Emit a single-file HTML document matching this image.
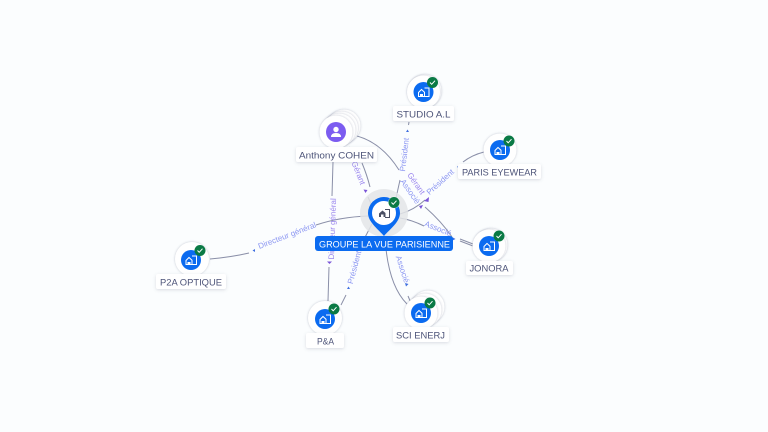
<!DOCTYPE html>
<html><head><meta charset="utf-8">
<style>
html,body{margin:0;padding:0;width:768px;height:432px;overflow:hidden;background:#fbfdfe}
svg{display:block;filter:blur(.3px)}
text{font-family:"Liberation Sans",sans-serif}
.l{font-size:9.6px;fill:#4c5378;text-anchor:middle}
.e{font-size:8px;fill:#8b96f2;text-anchor:middle}
.p{font-size:8px;fill:#9a86ee;text-anchor:middle}
.c{fill:none;stroke:#8a8fa8;stroke-width:1}
.lab{fill:#fff;filter:url(#s)}
.w{fill:#fff;filter:url(#s2)}
</style></head><body>
<svg width="768" height="432" viewBox="0 0 768 432" xmlns="http://www.w3.org/2000/svg">
<defs>
<filter id="s" x="-20%" y="-40%" width="140%" height="190%"><feDropShadow dx="0" dy="1" stdDeviation="1.5" flood-color="#5a6080" flood-opacity=".22"/></filter>
<filter id="s2" x="-30%" y="-30%" width="160%" height="160%"><feDropShadow dx="0" dy="0" stdDeviation="1" flood-color="#5a6080" flood-opacity=".4"/></filter>
<g id="b"><path d="M-5 4.500V.5L-2-2.500 1 .2V4.500Z" fill="none" stroke="#fff" stroke-width="1"/><path d="M1-4H5.500V4.500H1" fill="none" stroke="#fff" stroke-width="1"/><path d="M-3.500 4.500V2H-.5V4.500" fill="#fff"/></g>
<g id="ok"><circle r="5.500" fill="#0a7a45"/><path d="M-2.500 0L-.8 1.800L2.500-1.800" fill="none" stroke="#fff" stroke-width="1"/></g>
</defs>
<rect width="768" height="432" fill="#fbfdfe"/>

<!-- connectors -->
<path class="c" d="M210 259Q232 257 249 253"/>
<path class="c" d="M316 225Q340 217 368 216"/>
<path class="c" d="M333 162L332 196"/>
<path class="c" d="M329 267L328 301"/>
<path class="c" d="M349 147L352 152"/>
<path class="c" d="M362 163Q367 175 370 187"/>
<path class="c" d="M368 197L372 206"/>
<path class="c" d="M341 305L346 295"/>
<path class="c" d="M362 243L372 224"/>
<path class="c" d="M385 238Q388 285 407 304"/>
<path class="c" d="M394 238L397 246"/>
<path class="c" d="M408 296L411 303"/>
<path class="c" d="M400 218Q412 220 424 226"/>
<path class="c" d="M460 239L473 244"/>
<path class="c" d="M460 241L473 246"/>
<path class="c" d="M357 136Q382 143 399 170"/>
<path class="c" d="M425 207Q442 222 452 237"/>
<path class="c" d="M396 198L400 180"/>
<path class="c" d="M409 122L408.500 125"/>
<path class="c" d="M400 214Q414 210 425 200"/>
<path class="c" d="M463 162Q472 155 484 152"/>

<!-- connector labels -->
<text class="e" transform="translate(288,238) rotate(-21)">Directeur général</text>
<text class="p" transform="translate(335,229) rotate(-88)">Directeur général</text>
<text class="p" transform="translate(356,174) rotate(68)">Gérant</text>
<text class="e" transform="translate(357,268) rotate(-75)">Président</text>
<text class="e" transform="translate(400,270) rotate(72)">Associé</text>
<text class="e" transform="translate(437,231) rotate(22)">Associé</text>
<text class="e" transform="translate(407,155) rotate(-83)">Président</text>
<text class="e" transform="translate(442,184) rotate(-42)">Président</text>
<text class="p" transform="translate(414,185) rotate(55)">Gérant</text>
<text class="e" transform="translate(408,193) rotate(55)">Associé</text>

<!-- arrowheads -->
<g fill="#3f6fe0">
<path d="M406 132L409 132L407.500 129.500Z"/>
<path d="M457 167L459 165L459 168Z" />
<path d="M252.500 250.500L255 249L255 252Z"/>
<path d="M347 289L350 289L348.500 286.500Z"/>
<path d="M405 283L408.500 284L406 286.500Z"/>
<path d="M452 237L455.500 239L452.500 240.500Z"/>
</g>
<g fill="#7a55d8">
<path d="M363.500 189.500L367.500 190L365.500 193Z"/>
<path d="M327 261.500L332 261.500L329.500 264Z"/>
<path d="M419 206L423 205L421 209Z"/>
<path d="M424 201L429 197L428.500 202Z"/>
</g>

<!-- STUDIO A.L -->
<circle class="w" cx="425" cy="91" r="16.500"/><circle class="w" cx="423.500" cy="92" r="16.500"/>
<circle cx="423.500" cy="92" r="10" fill="#0b6bf0"/><use href="#b" x="423.500" y="92"/><use href="#ok" x="432.500" y="82.500"/>
<rect class="lab" x="393" y="106" width="61" height="15" rx="2"/><text class="l" x="423.500" y="117.500" textLength="54" lengthAdjust="spacingAndGlyphs">STUDIO A.L</text>

<!-- Anthony COHEN -->
<circle class="w" cx="344" cy="126" r="16.500"/><circle class="w" cx="341.500" cy="128" r="16.500"/><circle class="w" cx="339" cy="130" r="16.500"/><circle class="w" cx="336" cy="132" r="16.500"/>
<circle cx="336" cy="132" r="10" fill="#7c5cf0"/><circle cx="336" cy="129.500" r="2.700" fill="#fff"/><path d="M331 137Q331 133 336 133Q341 133 341 137Z" fill="#fff"/>
<rect class="lab" x="296" y="147" width="81" height="15" rx="2"/><text class="l" x="336.500" y="158.500" textLength="75" lengthAdjust="spacingAndGlyphs">Anthony COHEN</text>

<!-- PARIS EYEWEAR -->
<circle class="w" cx="500" cy="150" r="16.500"/>
<circle cx="500" cy="150" r="10" fill="#0b6bf0"/><use href="#b" x="500" y="150"/><use href="#ok" x="509" y="141"/>
<rect class="lab" x="458" y="164" width="83" height="15" rx="2"/><text class="l" x="499.500" y="175.500" textLength="75" lengthAdjust="spacingAndGlyphs">PARIS EYEWEAR</text>

<!-- JONORA -->
<circle class="w" cx="491" cy="245" r="16.500"/><circle class="w" cx="489" cy="246" r="16.500"/>
<circle cx="489" cy="246" r="10" fill="#0b6bf0"/><use href="#b" x="489" y="246"/><use href="#ok" x="499" y="236"/>
<rect class="lab" x="466" y="261" width="47" height="14" rx="2"/><text class="l" x="489" y="271.500" textLength="39" lengthAdjust="spacingAndGlyphs">JONORA</text>

<!-- SCI ENERJ -->
<circle class="w" cx="428" cy="307" r="16.500"/><circle class="w" cx="425" cy="310" r="16.500"/><circle class="w" cx="421" cy="313" r="16.500"/>
<circle cx="421" cy="313" r="10" fill="#0b6bf0"/><use href="#b" x="421" y="313"/><use href="#ok" x="430" y="303"/>
<rect class="lab" x="393" y="327" width="56" height="15" rx="2"/><text class="l" x="420.500" y="338.500" textLength="49" lengthAdjust="spacingAndGlyphs">SCI ENERJ</text>

<!-- P2A OPTIQUE -->
<circle class="w" cx="192" cy="259" r="17"/>
<circle cx="191" cy="260" r="10" fill="#0b6bf0"/><use href="#b" x="191" y="260"/><use href="#ok" x="200" y="250.500"/>
<rect class="lab" x="156" y="274" width="70" height="15" rx="2"/><text class="l" x="191" y="285.500" textLength="62" lengthAdjust="spacingAndGlyphs">P2A OPTIQUE</text>

<!-- P&A -->
<circle class="w" cx="325" cy="318" r="17"/>
<circle cx="325" cy="319" r="10" fill="#0b6bf0"/><use href="#b" x="325" y="319"/><use href="#ok" x="334" y="309"/>
<rect class="lab" x="306" y="333" width="38" height="15" rx="2"/><text class="l" x="325.500" y="344.500" textLength="17" lengthAdjust="spacingAndGlyphs">P&amp;A</text>

<!-- central node -->
<circle cx="384" cy="213" r="24" fill="#e3e5e7" opacity=".85"/>
<path d="M368 213A16 16 0 1 1 400 213C400 222 390 229 384 236C378 229 368 222 368 213Z" fill="#0b6bf0"/>
<circle cx="384" cy="213" r="12" fill="#fff"/>
<g transform="translate(384,213)"><path d="M-5 4V.5L-1.500-2.500 1.500 0V4Z" fill="#4a4f63"/><path d="M1-3.500H5.500V4.500H1" fill="none" stroke="#4a4f63" stroke-width="1"/><rect x="-3" y="1.500" width="2.500" height="2.500" fill="#fff"/></g>
<circle cx="394" cy="202.500" r="6" fill="#fff" opacity=".6"/>
<use href="#ok" x="394" y="202.500"/>
<rect x="315" y="236" width="138" height="15" rx="3" fill="#0b6bf0"/>
<text x="384.500" y="247.700" text-anchor="middle" font-size="9.600" fill="#fff" textLength="131" lengthAdjust="spacingAndGlyphs">GROUPE LA VUE PARISIENNE</text>
</svg>
</body></html>
